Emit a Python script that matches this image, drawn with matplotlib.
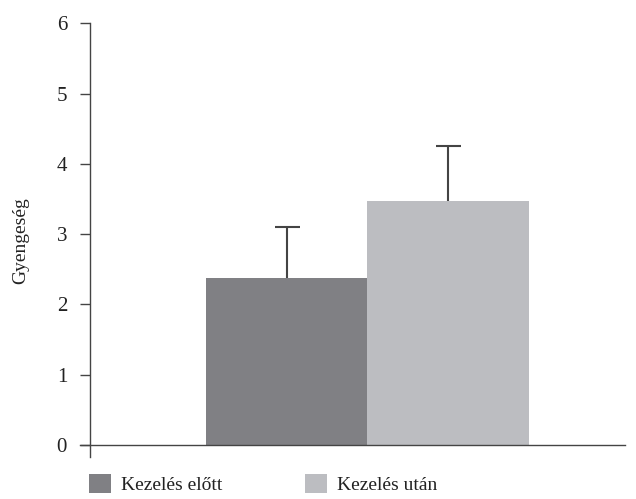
import numpy as np
import matplotlib
matplotlib.use("Agg")
import matplotlib.pyplot as plt

plt.rcParams['font.family'] = ['Liberation Serif', 'DejaVu Serif']

# data
groups = ["Kezelés előtt", "Kezelés után"]
means = [2.38, 3.47]
errors = [0.72, 0.78]
bar_colors = ["#808084", "#bcbdc1"]
yticks = [0, 1, 2, 3, 4, 5, 6]
ylabel = "Gyengeség"

W, H = 636, 499
fig = plt.figure(figsize=(W / 100, H / 100), dpi=100)
ax = fig.add_axes([80 / W, 1 - 457 / H, 545 / W, (457 - 23.3) / H])

x = np.arange(len(groups))
for i in range(len(groups)):
    ax.bar(x[i], means[i], width=1.0, color=bar_colors[i], label=groups[i], zorder=2)
    eb = ax.errorbar(x[i], means[i], yerr=[[0], [errors[i]]], fmt='none',
                     ecolor="#444444", elinewidth=1.5, capsize=9, capthick=1.5, zorder=3)
    # only the upper cap is shown
    eb[1][0].set_visible(False)
    eb[1][1].set_color("#222222")

ax.set_xlim(-1.28, 2.095)
ax.set_ylim(-0.17, 6)
ax.set_yticks(yticks)
ax.set_xticks([])

for s in ['top', 'right']:
    ax.spines[s].set_visible(False)
ax.spines['left'].set_position(('axes', 10 / 545))
ax.spines['bottom'].set_position(('data', 0))
ax.spines['left'].set_color("#444444")
ax.spines['bottom'].set_color("#444444")
ax.spines['left'].set_linewidth(1.0)
ax.spines['bottom'].set_linewidth(1.0)
ax.spines['bottom'].set_zorder(4)

ax.tick_params(axis='y', direction='out', length=7.5, width=1.0, color="#444444",
               labelsize=15, pad=9, labelcolor="#222222")
ax.set_ylabel(ylabel, fontsize=14, color="#222222", labelpad=20)

fig.legend(loc='upper left', bbox_to_anchor=(89 / W, 1 - 474 / H), ncol=2,
           frameon=False, fontsize=14, handlelength=1.15, handleheight=1.15,
           handletextpad=0.5, columnspacing=4.25, labelcolor="#222222",
           borderaxespad=0, borderpad=0)

fig.savefig("out.png", dpi=100)
